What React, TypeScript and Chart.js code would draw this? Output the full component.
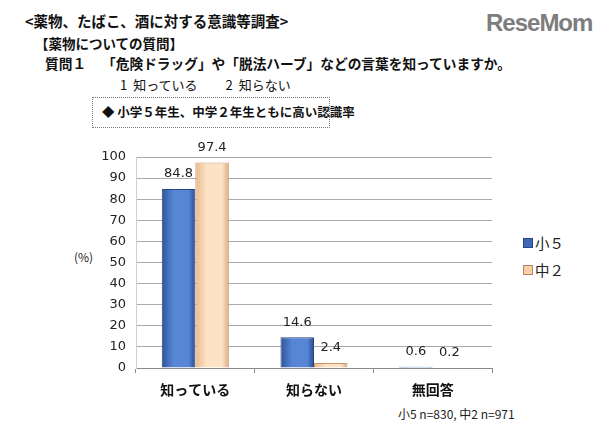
import { useEffect, useRef } from 'react';
import { Chart, registerables } from 'chart.js';

Chart.register(...registerables);

const CATEGORIES = ['知っている', '知らない', '無回答'];
const SERIES_NAMES = ['小５', '中２'];
const GRADE5 = [84.8, 14.6, 0.6];
const GRADE8 = [97.4, 2.4, 0.2];
const Y_MAX = 100;
const Y_STEP = 10;

const CJK = '"Noto Sans CJK JP", "Noto Sans", sans-serif';
const NUM_FONT = '"DejaVu Sans", Verdana, sans-serif';
const CAT_PCT = 0.565;

// blue / beige with darker edges, like the bevelled Excel bars
const STOPS = [
  ['#2f5499', '#5786d6', '#2b4b88'],
  ['#e9b98c', '#fde3c6', '#d9a77a'],
];

const dataLabels = {
  id: 'dataLabels',
  afterDatasetsDraw(chart: Chart) {
    const { ctx } = chart;
    const base = chart.scales.y.getPixelForValue(0);
    ctx.save();
    ctx.font = `13px ${NUM_FONT}`;
    ctx.fillStyle = '#222';
    ctx.textAlign = 'center';
    ctx.textBaseline = 'middle';
    chart.data.datasets.forEach((ds, di) => {
      const meta = chart.getDatasetMeta(di);
      meta.data.forEach((bar, i) => {
        const y = Math.min(bar.y - 15, base - 7);
        ctx.fillText(String(ds.data[i]), bar.x, y);
      });
    });
    ctx.restore();
  },
};

function barFill(series: number) {
  return (c: any) => {
    const chart = c.chart;
    const xs = chart.scales?.x;
    if (!xs || c.dataIndex === undefined) return STOPS[series][1];
    const center = xs.getPixelForValue(c.dataIndex);
    const w = (xs.width / CATEGORIES.length) * CAT_PCT / 2;
    if (!Number.isFinite(center) || !Number.isFinite(w) || w <= 0) return STOPS[series][1];
    const left = series === 0 ? center - w : center;
    const g = chart.ctx.createLinearGradient(left, 0, left + w, 0);
    g.addColorStop(0, STOPS[series][0]);
    g.addColorStop(0.35, STOPS[series][1]);
    g.addColorStop(0.8, STOPS[series][1]);
    g.addColorStop(1, STOPS[series][2]);
    return g;
  };
}

function BarChart() {
  const canvasRef = useRef<HTMLCanvasElement>(null);

  useEffect(() => {
    if (!canvasRef.current) return;
    const chart = new Chart(canvasRef.current, {
      type: 'bar',
      data: {
        labels: CATEGORIES,
        datasets: [
          {
            label: SERIES_NAMES[0],
            data: GRADE5,
            backgroundColor: barFill(0),
            borderColor: '#2a4680',
            borderWidth: 1,
            categoryPercentage: CAT_PCT,
            barPercentage: 1,
          },
          {
            label: SERIES_NAMES[1],
            data: GRADE8,
            backgroundColor: barFill(1),
            borderColor: '#c9976c',
            borderWidth: 1,
            categoryPercentage: CAT_PCT,
            barPercentage: 1,
          },
        ],
      },
      options: {
        responsive: false,
        animation: false,
        layout: { padding: { top: 27, right: 8, left: 0, bottom: 0 } },
        scales: {
          x: {
            offset: true,
            grid: {
              offset: true,
              drawOnChartArea: false,
              drawTicks: true,
              tickLength: 5,
              color: '#8a8a8a',
            },
            border: { color: '#8a8a8a' },
            ticks: {
              color: '#111',
              padding: 8,
              font: { family: CJK, size: 14, weight: 'bold' },
            },
            afterFit: (s: any) => {
              s.height = 32;
            },
          },
          y: {
            min: 0,
            max: Y_MAX,
            ticks: {
              stepSize: Y_STEP,
              color: '#222',
              padding: 10,
              font: { family: NUM_FONT, size: 13 },
            },
            grid: { color: '#a9a9a9', drawTicks: false },
            border: { color: '#cfcfcf' },
            afterFit: (s: any) => {
              s.width = 136;
            },
          },
        },
        plugins: {
          legend: { display: false },
          tooltip: { enabled: false },
        },
      },
      plugins: [dataLabels],
    });
    return () => chart.destroy();
  }, []);

  return (
    <canvas
      ref={canvasRef}
      width={500}
      height={270}
      style={{ position: 'absolute', left: 0, top: 130, width: 500, height: 270 }}
    />
  );
}

const abs = (left: number, top: number, extra: object = {}) => ({
  position: 'absolute' as const,
  left,
  top,
  whiteSpace: 'nowrap' as const,
  lineHeight: 1,
  ...extra,
});

export default function App() {
  return (
    <div
      style={{
        position: 'absolute',
        left: 0,
        top: 0,
        width: 600,
        height: 429,
        background: '#fff',
        fontFamily: CJK,
        color: '#111',
        overflow: 'hidden',
      }}
    >
      <div style={abs(25, 14, { fontSize: 14.5, fontWeight: 'bold' })}>
        &lt;薬物、たばこ、酒に対する意識等調査&gt;
      </div>
      <div style={abs(35, 37, { fontSize: 13.5, fontWeight: 'bold' })}>【薬物についての質問】</div>
      <div style={abs(45, 57, { fontSize: 13.7, fontWeight: 'bold' })}>
        質問１<span style={{ marginLeft: 16 }}>「危険ドラッグ」や「脱法ハーブ」などの言葉を知っていますか。</span>
      </div>
      <div style={abs(120, 78, { fontSize: 13 })}>
        1<span style={{ marginLeft: 6 }}>知っている</span>
        <span style={{ marginLeft: 28 }}>2</span>
        <span style={{ marginLeft: 6 }}>知らない</span>
      </div>
      <div
        style={abs(92, 97, {
          width: 238,
          height: 31,
          border: '1.5px dotted #777',
          boxSizing: 'border-box',
        })}
      />
      <div style={abs(102, 106, { fontSize: 12.5, fontWeight: 'bold' })}>
        ◆ 小学５年生、中学２年生ともに高い認識率
      </div>
      <div
        style={abs(486, 11, {
          fontFamily: '"Liberation Sans", Arial, sans-serif',
          fontSize: 24,
          fontWeight: 'bold',
          color: '#7d7d7d',
          letterSpacing: -1,
        })}
      >
        ReseMom
      </div>
      <div style={abs(74, 251, { fontSize: 12, color: '#222' })}>(%)</div>
      <BarChart />
      <div style={abs(523, 236, { fontSize: 14.5, color: '#222', display: 'flex', alignItems: 'center' })}>
        <span style={{ width: 8, height: 8, background: '#3f68b6', border: '1px solid #2a4680', marginRight: 2 }} />
        {SERIES_NAMES[0]}
      </div>
      <div style={abs(523, 263, { fontSize: 14.5, color: '#222', display: 'flex', alignItems: 'center' })}>
        <span style={{ width: 8, height: 8, background: '#f4cfaa', border: '1px solid #b48a66', marginRight: 2 }} />
        {SERIES_NAMES[1]}
      </div>
      <div style={abs(398, 408, { fontSize: 12, color: '#222' })}>小5 n=830, 中2 n=971</div>
    </div>
  );
}
